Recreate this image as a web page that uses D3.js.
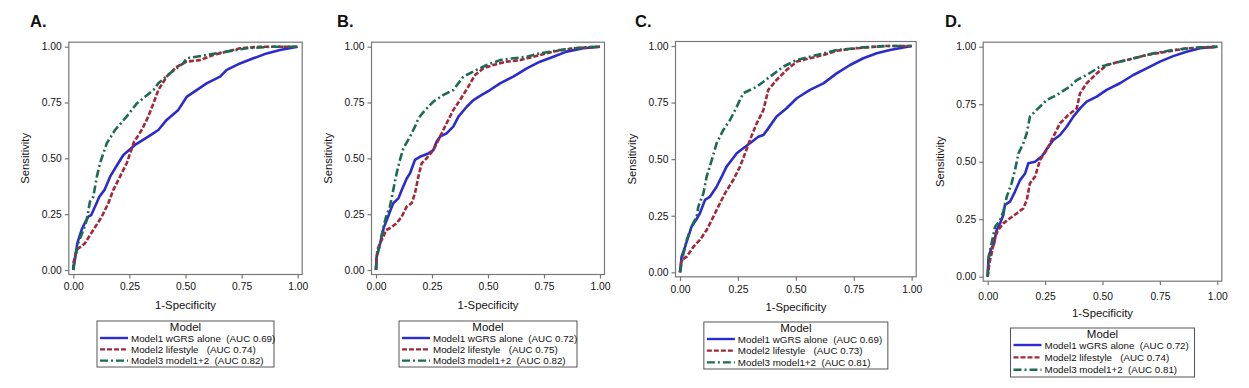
<!DOCTYPE html>
<html>
<head>
<meta charset="utf-8">
<script src="https://cdn.jsdelivr.net/npm/d3@7"></script>
<style>
body { margin: 0; background: #fff; }
text { font-family: "Liberation Sans", Arial, sans-serif; fill: #111; }
</style>
</head>
<body>
<div id="chart"></div>
<script>
// ROC points: [1-specificity, sensitivity]
var rocA1 = [[0,0],[0.009,0.06],[0.018,0.12],[0.037,0.18],[0.056,0.22],[0.067,0.239],[0.08,0.246],[0.104,0.3],[0.116,0.328],[0.14,0.36],[0.164,0.418],[0.2,0.478],[0.223,0.515],[0.275,0.56],[0.334,0.597],[0.379,0.627],[0.416,0.672],[0.468,0.717],[0.505,0.775],[0.594,0.836],[0.654,0.866],[0.684,0.896],[0.743,0.925],[0.802,0.948],[0.862,0.97],[0.921,0.985],[1,1]];
var rocA2 = [[0,0],[0,0.03],[0.015,0.09],[0.052,0.12],[0.089,0.179],[0.127,0.239],[0.156,0.299],[0.178,0.358],[0.208,0.418],[0.238,0.478],[0.27,0.572],[0.305,0.627],[0.334,0.687],[0.357,0.746],[0.379,0.806],[0.416,0.866],[0.461,0.91],[0.505,0.933],[0.565,0.94],[0.624,0.963],[0.684,0.978],[0.743,0.993],[0.832,1],[1,1]];
var rocA3 = [[0,0],[0.003,0.03],[0.022,0.12],[0.045,0.179],[0.06,0.224],[0.074,0.306],[0.089,0.328],[0.105,0.418],[0.119,0.478],[0.149,0.567],[0.186,0.627],[0.24,0.69],[0.283,0.746],[0.357,0.806],[0.379,0.836],[0.431,0.881],[0.49,0.926],[0.505,0.948],[0.594,0.963],[0.684,0.978],[0.773,0.993],[0.89,1],[1,1]];

var rocB1 = [[0,0],[0.003,0.06],[0.015,0.104],[0.025,0.149],[0.036,0.194],[0.051,0.231],[0.065,0.269],[0.077,0.299],[0.1,0.321],[0.115,0.358],[0.137,0.41],[0.152,0.433],[0.174,0.493],[0.196,0.507],[0.234,0.522],[0.256,0.537],[0.271,0.575],[0.286,0.597],[0.315,0.612],[0.345,0.642],[0.368,0.687],[0.405,0.731],[0.435,0.761],[0.472,0.784],[0.509,0.806],[0.554,0.836],[0.613,0.866],[0.673,0.903],[0.732,0.933],[0.792,0.955],[0.851,0.978],[0.926,0.993],[1,1]];
var rocB2 = [[0,0],[0,0.015],[0.006,0.09],[0.018,0.119],[0.033,0.149],[0.045,0.179],[0.062,0.187],[0.092,0.209],[0.115,0.239],[0.137,0.284],[0.159,0.299],[0.174,0.343],[0.189,0.418],[0.204,0.478],[0.226,0.5],[0.256,0.537],[0.286,0.597],[0.315,0.657],[0.345,0.716],[0.375,0.761],[0.412,0.821],[0.442,0.873],[0.479,0.903],[0.524,0.918],[0.583,0.933],[0.643,0.94],[0.702,0.955],[0.792,0.978],[0.881,0.993],[1,1]];
var rocB3 = [[0,0],[0.003,0.06],[0.015,0.104],[0.03,0.179],[0.045,0.239],[0.062,0.284],[0.077,0.358],[0.092,0.433],[0.107,0.493],[0.122,0.545],[0.152,0.597],[0.174,0.642],[0.189,0.679],[0.219,0.716],[0.256,0.754],[0.301,0.784],[0.345,0.806],[0.39,0.866],[0.449,0.896],[0.494,0.918],[0.554,0.94],[0.613,0.948],[0.673,0.955],[0.732,0.97],[0.821,0.985],[0.926,0.997],[1,1]];

var rocC1 = [[0,0],[0.007,0.069],[0.022,0.113],[0.036,0.158],[0.05,0.202],[0.069,0.231],[0.086,0.261],[0.108,0.32],[0.129,0.334],[0.158,0.378],[0.18,0.423],[0.201,0.467],[0.223,0.496],[0.245,0.526],[0.273,0.548],[0.302,0.57],[0.338,0.599],[0.36,0.607],[0.381,0.636],[0.417,0.688],[0.46,0.725],[0.504,0.769],[0.561,0.806],[0.619,0.835],[0.676,0.879],[0.734,0.916],[0.791,0.946],[0.849,0.968],[0.906,0.982],[1,1]];
var rocC2 = [[0,0],[0.007,0.054],[0.029,0.069],[0.058,0.113],[0.086,0.143],[0.115,0.187],[0.137,0.231],[0.165,0.29],[0.194,0.349],[0.23,0.408],[0.259,0.467],[0.281,0.526],[0.302,0.585],[0.331,0.658],[0.36,0.717],[0.381,0.806],[0.417,0.85],[0.46,0.894],[0.504,0.931],[0.561,0.946],[0.619,0.96],[0.676,0.979],[0.763,0.99],[0.878,1],[1,1]];
var rocC3 = [[0,0],[0.012,0.069],[0.029,0.143],[0.05,0.202],[0.072,0.246],[0.079,0.29],[0.101,0.349],[0.115,0.423],[0.137,0.496],[0.158,0.57],[0.187,0.629],[0.216,0.673],[0.245,0.732],[0.273,0.791],[0.331,0.82],[0.388,0.864],[0.446,0.909],[0.504,0.938],[0.59,0.96],[0.676,0.982],[0.791,0.994],[0.892,1],[1,1]];

var rocD1 = [[0,0],[0.003,0.072],[0.013,0.116],[0.028,0.145],[0.039,0.203],[0.054,0.232],[0.068,0.268],[0.075,0.312],[0.097,0.326],[0.119,0.37],[0.141,0.42],[0.163,0.449],[0.177,0.493],[0.206,0.5],[0.235,0.522],[0.264,0.565],[0.286,0.594],[0.315,0.616],[0.344,0.652],[0.373,0.696],[0.402,0.732],[0.431,0.761],[0.475,0.783],[0.518,0.812],[0.576,0.841],[0.634,0.877],[0.692,0.906],[0.75,0.935],[0.808,0.959],[0.866,0.978],[0.925,0.993],[1,1]];
var rocD2 = [[0,0],[0.007,0.058],[0.017,0.101],[0.032,0.174],[0.046,0.203],[0.068,0.232],[0.097,0.254],[0.126,0.275],[0.155,0.297],[0.17,0.333],[0.184,0.406],[0.206,0.435],[0.228,0.507],[0.257,0.551],[0.286,0.609],[0.315,0.667],[0.351,0.703],[0.388,0.732],[0.402,0.797],[0.431,0.841],[0.475,0.884],[0.518,0.92],[0.576,0.935],[0.634,0.949],[0.692,0.964],[0.779,0.978],[0.866,0.993],[1,1]];
var rocD3 = [[0,0],[0.004,0.087],[0.017,0.145],[0.032,0.217],[0.054,0.246],[0.068,0.283],[0.083,0.348],[0.104,0.406],[0.119,0.464],[0.134,0.536],[0.155,0.58],[0.17,0.623],[0.184,0.696],[0.213,0.725],[0.257,0.768],[0.3,0.79],[0.358,0.826],[0.388,0.855],[0.431,0.877],[0.489,0.913],[0.547,0.928],[0.634,0.949],[0.721,0.971],[0.808,0.986],[0.925,0.997],[1,1]];

var panelLetters = ["A.", "B.", "C.", "D."];
var modelLabels = ["Model1 wGRS alone  ", "Model2 lifestyle   ", "Model3 model1+2  "];
var aucA = [0.69, 0.74, 0.82];
var aucB = [0.72, 0.75, 0.82];
var aucC = [0.69, 0.73, 0.81];
var aucD = [0.72, 0.74, 0.81];
var tickValues = [0, 0.25, 0.5, 0.75, 1];

var curves = [[rocA1, rocA2, rocA3], [rocB1, rocB2, rocB3], [rocC1, rocC2, rocC3], [rocD1, rocD2, rocD3]];
var aucs = [aucA, aucB, aucC, aucD];

// layout of each panel (pixel positions in the page)
var layout = [
    { left: 73.3, right: 297.7, top: 46.7, bottom: 270, letterX: 30, tickPad: 4, xLabY: 309, legTop: 321, legW: 177, legH: 46 },
    { left: 376, right: 600, top: 46.7, bottom: 270, letterX: 337, tickPad: 4, xLabY: 309, legTop: 321, legW: 178, legH: 46 },
    { left: 680, right: 911.7, top: 46, bottom: 272.3, letterX: 635, tickPad: 4.5, xLabY: 310.5, legTop: 322, legW: 184, legH: 47 },
    { left: 987.7, right: 1217.3, top: 46.7, bottom: 276.7, letterX: 945, tickPad: 7, xLabY: 317, legTop: 328, legW: 184, legH: 49 }
];

var styles = [
    { color: "#2b2bcf", dash: null },
    { color: "#a3283a", dash: "5,2" },
    { color: "#1d6a55", dash: "8,3,2,3" }
];

var svg = d3.select("#chart").append("svg")
    .attr("width", 1249)
    .attr("height", 388);

var pad = 4.5;

layout.forEach(function(p, i) {
    var g = svg.append("g").attr("class", "panel");

    var x = d3.scaleLinear().domain([0, 1]).range([p.left, p.right]);
    var y = d3.scaleLinear().domain([0, 1]).range([p.bottom, p.top]);

    // panel letter
    g.append("text")
        .attr("x", p.letterX)
        .attr("y", 27)
        .attr("font-size", 16.5)
        .attr("font-weight", "bold")
        .text(panelLetters[i]);

    // plot box
    g.append("rect")
        .attr("x", p.left - pad)
        .attr("y", p.top - pad)
        .attr("width", p.right - p.left + 2 * pad)
        .attr("height", p.bottom - p.top + 2 * pad)
        .attr("fill", "none")
        .attr("stroke", "#777")
        .attr("stroke-width", 1.2);

    var yAxis = d3.axisLeft(y).tickValues(tickValues).tickFormat(d3.format(".2f")).tickSize(4).tickPadding(3);
    var xAxis = d3.axisBottom(x).tickValues(tickValues).tickFormat(d3.format(".2f")).tickSize(4).tickPadding(p.tickPad);

    var ya = g.append("g")
        .attr("transform", "translate(" + (p.left - pad) + ",0)")
        .call(yAxis);
    var xa = g.append("g")
        .attr("transform", "translate(0," + (p.bottom + pad) + ")")
        .call(xAxis);

    [ya, xa].forEach(function(a) {
        a.select(".domain").remove();
        a.selectAll("line").attr("stroke", "#777").attr("stroke-width", 1.2);
        a.selectAll("text").attr("font-size", 10.3).attr("fill", "#111")
            .style("font-family", "'Liberation Sans', Arial, sans-serif");
    });

    // axis titles
    g.append("text")
        .attr("transform", "translate(" + (p.left - 44) + "," + ((p.top + p.bottom) / 2) + ") rotate(-90)")
        .attr("text-anchor", "middle")
        .attr("font-size", 11.3)
        .text("Sensitivity");

    g.append("text")
        .attr("x", (p.left + p.right) / 2)
        .attr("y", p.xLabY)
        .attr("text-anchor", "middle")
        .attr("font-size", 11.3)
        .text("1-Specificity");

    // ROC curves
    var line = d3.line()
        .x(function(d) { return x(d[0]); })
        .y(function(d) { return y(d[1]); });

    curves[i].forEach(function(c, k) {
        g.append("path")
            .datum(c)
            .attr("d", line)
            .attr("fill", "none")
            .attr("stroke", styles[k].color)
            .attr("stroke-width", 2.6)
            .attr("stroke-linejoin", "round")
            .attr("stroke-dasharray", styles[k].dash);
    });

    // legend
    var cx = (p.left + p.right) / 2;
    var lx = cx - p.legW / 2;
    var leg = g.append("g").attr("transform", "translate(" + lx + "," + p.legTop + ")");

    leg.append("rect")
        .attr("width", p.legW)
        .attr("height", p.legH)
        .attr("fill", "#fff")
        .attr("stroke", "#555")
        .attr("stroke-width", 1);

    leg.append("text")
        .attr("x", p.legW / 2)
        .attr("y", 9.5)
        .attr("text-anchor", "middle")
        .attr("font-size", 11.5)
        .text("Model");

    var rowH = (p.legH - 13) / 3;
    modelLabels.forEach(function(m, k) {
        var ry = 17 + k * rowH * 1.03;
        leg.append("line")
            .attr("x1", 3).attr("x2", 31)
            .attr("y1", ry).attr("y2", ry)
            .attr("stroke", styles[k].color)
            .attr("stroke-width", 2.4)
            .attr("stroke-dasharray", styles[k].dash);
        leg.append("text")
            .attr("x", 34)
            .attr("y", ry + 3.5)
            .attr("font-size", 9.8)
            .attr("xml:space", "preserve")
            .style("white-space", "pre")
            .text(m + "(AUC " + aucs[i][k].toFixed(2) + ")");
    });
});
</script>
</body>
</html>
